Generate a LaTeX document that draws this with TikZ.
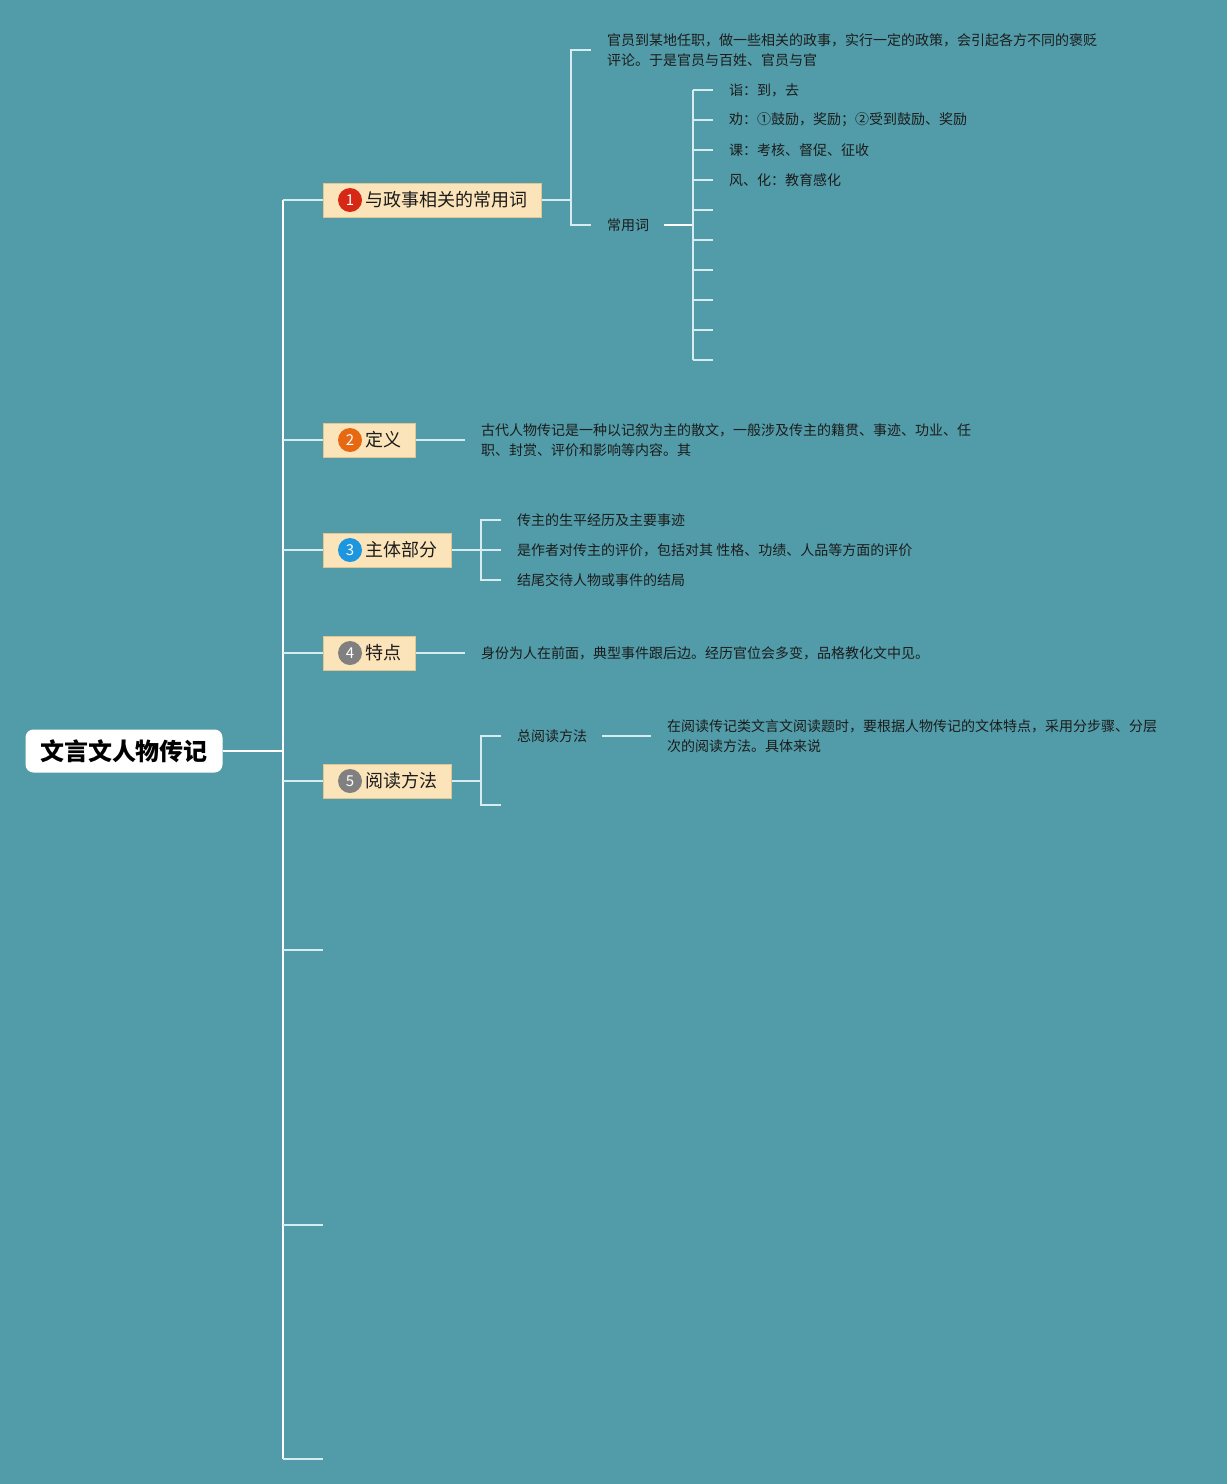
\documentclass[tikz,border=0pt]{standalone}
\usepackage{fontspec}
\setmainfont{Noto Sans CJK SC}
\usetikzlibrary{positioning,calc}
\definecolor{cBack}{RGB}{81,156,168}
\definecolor{cTopic}{RGB}{252,228,186}
\definecolor{cTopicRim}{RGB}{226,198,146}
\definecolor{cTwig}{RGB}{214,236,241}
\definecolor{cInk}{RGB}{28,28,28}
\definecolor{cRed}{RGB}{214,40,20}
\definecolor{cOrange}{RGB}{232,104,18}
\definecolor{cBlue}{RGB}{28,150,222}
\definecolor{cGrey}{RGB}{128,128,128}

\begin{document}
\begin{tikzpicture}[x=1pt,y=-1pt,
  rootbox/.style={fill=white,rounded corners=8pt,minimum width=197pt,minimum height=43pt,
    font=\fontsize{24}{24}\selectfont\bfseries,text=black},
  topic/.style={fill=cTopic,draw=cTopicRim,line width=0.8pt,minimum height=34pt,
    inner xsep=14pt,anchor=west,font=\fontsize{18}{18}\selectfont,text=cInk},
  numdot/.style={circle,minimum size=24pt,inner sep=0pt,text=white,font=\fontsize{15}{15}\selectfont},
  leaf/.style={anchor=west,inner sep=0pt,align=left,font=\fontsize{14}{20}\selectfont,text=cInk},
  trunk/.style={draw=white,line width=1.8pt},
  twig/.style={draw=cTwig,line width=1.6pt}]
  \fill[cBack] (0,0) rectangle (1227,1484);
  \useasboundingbox (0,0) rectangle (1227,1484);

  % root and trunk
  \node[rootbox] (root) at (124,751) {文言文人物传记};
  \coordinate (j) at (283,751);
  \coordinate (e6) at (323,950);
  \coordinate (e7) at (323,1225);
  \coordinate (e8) at (323,1459);

  \node[topic] (t1) at (323,200) {\hspace{28pt}与政事相关的常用词};
  \node[topic] (t2) at (323,440) {\hspace{28pt}定义};
  \node[topic] (t3) at (323,550) {\hspace{28pt}主体部分};
  \node[topic] (t4) at (323,653) {\hspace{28pt}特点};
  \node[topic] (t5) at (323,781) {\hspace{28pt}阅读方法};
  \node[numdot,fill=cRed] (n1) at ([xshift=27pt]t1.west) {1};
  \node[numdot,fill=cOrange] (n2) at ([xshift=27pt]t2.west) {2};
  \node[numdot,fill=cBlue] (n3) at ([xshift=27pt]t3.west) {3};
  \node[numdot,fill=cGrey] (n4) at ([xshift=27pt]t4.west) {4};
  \node[numdot,fill=cGrey] (n5) at ([xshift=27pt]t5.west) {5};

  \draw[trunk] (root.east) -- (j);
  \draw[trunk] (j |- t1.west) -- (j |- e8);
  \foreach \b in {t1,t2,t3,t4,t5,e6,e7,e8}
    \draw[twig] (j |- \b.west) -- (\b.west);

  % 1
  \node[leaf] (g1a) at (607,50) {官员到某地任职，做一些相关的政事，实行一定的政策，会引起各方不同的褒贬\\评论。于是官员与百姓、官员与官};
  \node[leaf] (g1b) at (607,225) {常用词};
  \coordinate (k1) at (571,200);
  \draw[twig] (t1.east) -- (k1);
  \draw[twig] ([xshift=-16pt]g1a.west) -| (k1) |- ([xshift=-16pt]g1b.west);
  \coordinate (k2) at (693,225);
  \draw[trunk,line width=1.6pt] ([xshift=15pt]g1b.east) -- (k2);
  \foreach \i in {1,...,10}
    \coordinate (w\i) at (713,60+30*\i);
  \draw[twig] (k2 |- w1) -- (k2 |- w10);
  \foreach \i in {1,...,10}
    \draw[twig] (k2 |- w\i) -- (w\i);
  \node[leaf,right=16pt of w1] (c1) {诣：到，去};
  \node[leaf,right=16pt of w2] (c2) {劝：①鼓励，奖励；②受到鼓励、奖励};
  \node[leaf,right=16pt of w3] (c3) {课：考核、督促、征收};
  \node[leaf,right=16pt of w4] (c4) {风、化：教育感化};

  % 2
  \node[leaf] (g2) at (481,440) {古代人物传记是一种以记叙为主的散文，一般涉及传主的籍贯、事迹、功业、任\\职、封赏、评价和影响等内容。其};
  \draw[twig] (t2.east) -- ([xshift=-16pt]g2.west);

  % 3
  \node[leaf] (g3a) at (517,520) {传主的生平经历及主要事迹};
  \node[leaf] (g3b) at (517,550) {是作者对传主的评价，包括对其 性格、功绩、人品等方面的评价};
  \node[leaf] (g3c) at (517,580) {结尾交待人物或事件的结局};
  \coordinate (k3) at (481,550);
  \draw[twig] (t3.east) -- (k3);
  \draw[twig] ([xshift=-16pt]g3a.west) -| (k3) |- ([xshift=-16pt]g3c.west);
  \draw[twig] (k3) -- ([xshift=-16pt]g3b.west);

  % 4
  \node[leaf] (g4) at (481,653) {身份为人在前面，典型事件跟后边。经历官位会多变，品格教化文中见。};
  \draw[twig] (t4.east) -- ([xshift=-16pt]g4.west);

  % 5
  \node[leaf] (g5a) at (517,736) {总阅读方法};
  \node[leaf] (g5b) at (667,736) {在阅读传记类文言文阅读题时，要根据人物传记的文体特点，采用分步骤、分层\\次的阅读方法。具体来说};
  \coordinate (k5) at (481,781);
  \coordinate (e5) at (501,805);
  \draw[twig] (t5.east) -- (k5);
  \draw[twig] ([xshift=-16pt]g5a.west) -| (k5) |- (e5);
  \draw[twig] ([xshift=15pt]g5a.east) -- ([xshift=-16pt]g5b.west);
\end{tikzpicture}
\end{document}
